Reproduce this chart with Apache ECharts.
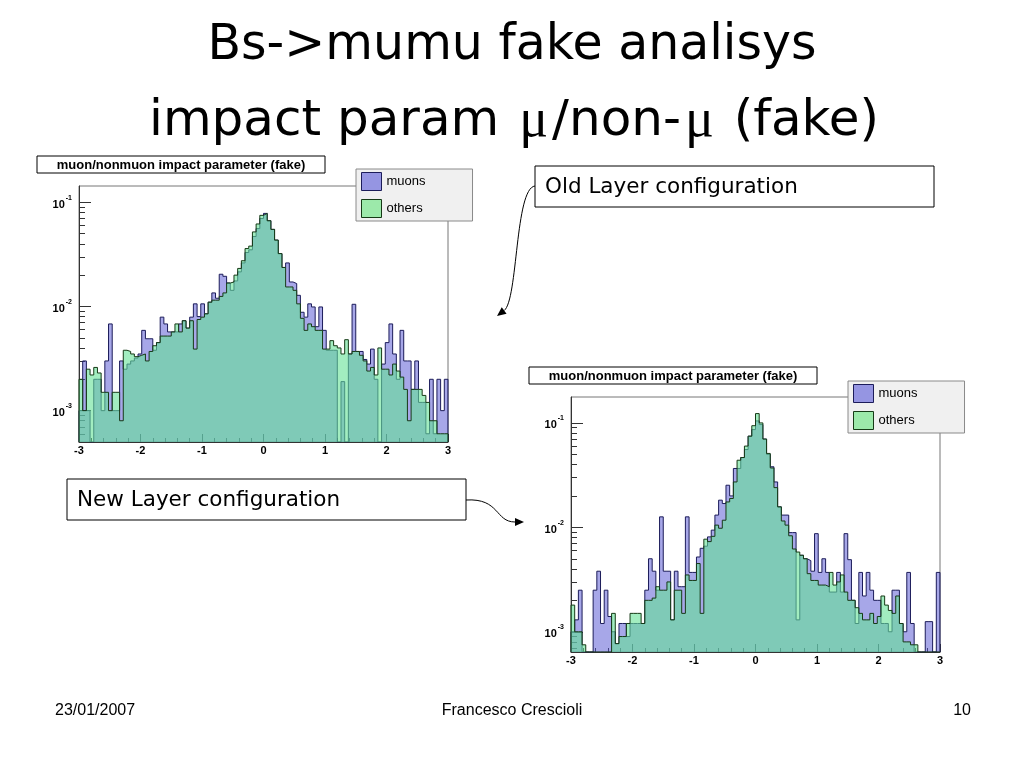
<!DOCTYPE html>
<html><head><meta charset="utf-8">
<script src="https://cdn.jsdelivr.net/npm/echarts@6/dist/echarts.min.js"></script>
<style>html,body{margin:0;padding:0;background:#fff;}#c{width:1023px;height:767px;}</style>
</head><body><div id="c"></div>
<script>
// ---------- data ----------
const BIN_LO = -3, BIN_W = 0.06;           // 100 bins over [-3, 3]
const xTickLabels = [-3, -2, -1, 0, 1, 2, 3];
const yDecades = [0.001, 0.01, 0.1];
const seriesNames = ['muons', 'others'];
const histTitle = 'muon/nonmuon impact parameter (fake)';

const oldMuons = [0.001,0.003,0.001,0,0.002,0.002,0.001,0.003,0.0068,0.001,
 0.001,0.003,0.0025,0.0028,0.003,0.0032,0.0035,0.0059,0.0049,0.0049,
 0.0038,0.0045,0.0079,0.0068,0.0057,0.0057,0.0057,0.0068,0.0073,0.0062,
 0.0079,0.0106,0.008,0.0106,0.0085,0.011,0.0135,0.012,0.0204,0.0195,
 0.0168,0.0143,0.0176,0.0215,0.0262,0.033,0.035,0.047,0.056,0.07,
 0.0783,0.0666,0.055,0.0434,0.0322,0.0237,0.0262,0.0172,0.0166,0.0128,
 0.0088,0.0079,0.0106,0.0099,0.0064,0.0099,0.0059,0.0038,0.0038,0.0038,
 0,0.0019,0,0.0035,0.0105,0.0037,0.0037,0.0031,0.0028,0.0039,
 0.002,0,0.0028,0.0045,0.0068,0.0035,0.002,0.0059,0.003,0.003,
 0.0016,0.003,0.0012,0.0012,0.0006,0.002,0.0006,0.002,0.001,0.002];
const oldOthers = [0.002,0.001,0.0025,0.0022,0.0026,0.0023,0.0015,0.0015,0.001,0.0015,
 0.0015,0.0008,0.0038,0.0037,0.0035,0.0033,0.0034,0.0035,0.003,0.0037,
 0.0042,0.0045,0.0052,0.0052,0.0052,0.0057,0.0068,0.0057,0.0073,0.0062,
 0.0073,0.0039,0.0075,0.0079,0.0085,0.011,0.0115,0.0115,0.0125,0.0135,
 0.0168,0.0172,0.02,0.0232,0.0275,0.036,0.038,0.052,0.062,0.075,
 0.0783,0.0666,0.055,0.0434,0.0322,0.0237,0.0154,0.0154,0.0143,0.0106,
 0.0077,0.0059,0.0068,0.0064,0.0059,0.0059,0.0039,0.0039,0.0047,0.0042,
 0.004,0.0035,0.0048,0.0035,0.0037,0.0037,0.0034,0.003,0.0024,0.0026,
 0.0022,0.004,0.0025,0.0025,0.0022,0.0028,0.0024,0.0021,0.0016,0.0008,
 0.0016,0.0016,0.0016,0.0014,0.0012,0.0008,0.0008,0.0006,0.0006,0.0006];
const newMuons = [0.001,0.0013,0.0025,0,0,0,0.0025,0.0038,0.0012,0.0025,
 0.0014,0.001,0.00077,0.0012,0.0012,0.0009,0.0012,0.0012,0.0012,0.0012,
 0.0025,0.005,0.0038,0.0025,0.0126,0.0038,0.0038,0.0013,0.0038,0.0027,
 0.0027,0.0126,0.0037,0.0037,0.0052,0.0063,0.0066,0.0081,0.0094,0.0131,
 0.0182,0.0169,0.0253,0.02,0.0366,0.0366,0.0466,0.0556,0.0746,0.0863,
 0.1045,0.0964,0.07,0.05,0.038,0.0272,0.0157,0.0131,0.0131,0.0089,
 0.0089,0.0013,0.0054,0.005,0.0048,0.0038,0.0087,0.0037,0.005,0.0037,
 0.0024,0.0024,0.0037,0.0024,0.0087,0.0049,0.002,0.0012,0.0037,0.0022,
 0.0037,0.0025,0.002,0.002,0.0012,0.0012,0.001,0.0025,0.0025,0.0012,
 0.001,0.0037,0.0012,0,0,0,0.00125,0.00125,0,0.0037];
const newOthers = [0.0018,0.001,0.001,0.00075,0,0,0,0,0,0,
 0,0.0015,0.00077,0.0009,0.0009,0.0012,0.0015,0.0015,0.0015,0.0012,
 0.002,0.002,0.0021,0.0027,0.0025,0.0025,0.003,0.0013,0.0025,0.0025,
 0.0015,0.0035,0.0031,0.0031,0.0045,0.0015,0.0077,0.0073,0.0082,0.0105,
 0.0098,0.0117,0.0175,0.0189,0.0272,0.0439,0.0466,0.06,0.0746,0.094,
 0.1228,0.1,0.07,0.051,0.037,0.024,0.0157,0.0115,0.0105,0.0083,
 0.0062,0.0058,0.0054,0.005,0.0036,0.0031,0.0031,0.0028,0.0028,0.0027,
 0.0037,0.0028,0.003,0.0035,0.0024,0.002,0.002,0.0017,0.0015,0.0013,
 0.0013,0.0015,0.0012,0.0014,0.0022,0.0018,0.0016,0.0015,0.0022,0.0012,
 0.0008,0.0008,0.00075,0.00075,0,0,0,0,0,0];

// ---------- styling ----------
const MU_FILL = 'rgba(80,80,210,0.5)', MU_LINE = '#1c1c5a';
const OT_FILL = 'rgba(100,225,150,0.6)', OT_LINE = '#163a16';
const ROOT_FONT = '"Liberation Sans", Arial, sans-serif';
const Y_RANGES = [[5e-4, 0.1435], [6.4e-4, 0.177]];
const GRIDS = [{left: 79, top: 186, width: 369, height: 256},
               {left: 571, top: 397, width: 369, height: 255}];

function edge(i) { return Math.round((BIN_LO + i * BIN_W) * 1e6) / 1e6; }
function stepData(vals, floor) {
  const pts = [[edge(0), floor]];
  vals.forEach((v, i) => pts.push([edge(i), v > 0 ? v : floor]));
  const last = vals[vals.length - 1];
  pts.push([edge(vals.length), last > 0 ? last : floor]);
  pts.push([edge(vals.length), floor]);
  return pts;
}
function histSeries(name, vals, gi, fill, line, z) {
  return {
    name, type: 'line', step: 'end', xAxisIndex: gi, yAxisIndex: gi,
    data: stepData(vals, Y_RANGES[gi][0]), symbol: 'none', showSymbol: false,
    clip: true, z, silent: true,
    lineStyle: {color: line, width: 1},
    itemStyle: {color: fill},
    areaStyle: {color: fill, opacity: 1, origin: 'start'}
  };
}

const xAxes = GRIDS.map((g, gi) => ({
  type: 'value', gridIndex: gi, min: -3, max: 3, interval: 1,
  axisLine: {show: true, onZero: false, lineStyle: {color: '#333', width: 1}},
  axisTick: {show: true, inside: true, length: 8, lineStyle: {color: '#333'}},
  minorTick: {show: true, splitNumber: 5, length: 4, lineStyle: {color: '#333'}},
  splitLine: {show: false},
  axisLabel: {show: true, margin: 3, color: '#000', fontFamily: ROOT_FONT, fontWeight: 'bold', fontSize: 11,
    customValues: xTickLabels, formatter: v => String(v)}
}));
const yAxes = GRIDS.map((g, gi) => ({
  type: 'log', logBase: 10, gridIndex: gi, min: Y_RANGES[gi][0], max: Y_RANGES[gi][1],
  axisLine: {show: true, onZero: false, lineStyle: {color: '#333', width: 1}},
  axisTick: {show: true, inside: true, length: 12, customValues: yDecades, lineStyle: {color: '#333'}},
  minorTick: {show: true, splitNumber: 9, length: 6, lineStyle: {color: '#333'}},
  splitLine: {show: false},
  axisLabel: {show: true, margin: 7, customValues: yDecades,
    formatter: v => '{b|10}{s|' + Math.round(Math.log10(v)) + '}',
    rich: {b: {fontSize: 11, fontWeight: 'bold', fontFamily: ROOT_FONT, color: '#000', lineHeight: 16, verticalAlign: 'bottom'},
           s: {fontSize: 7, fontWeight: 'bold', fontFamily: ROOT_FONT, color: '#000', lineHeight: 16, verticalAlign: 'top', padding: [0, 0, 8, 1]}}}
}));

const legends = [{left: 356, top: 169}, {left: 848, top: 381}].map(p => ({
  left: p.left, top: p.top, orient: 'vertical', icon: 'rect',
  itemWidth: 20, itemHeight: 18, itemGap: 8, padding: [3, 47, 3, 5],
  backgroundColor: '#f0f0f0', borderColor: '#8a8a8a', borderWidth: 1, borderRadius: 0,
  selectedMode: false,
  textStyle: {fontFamily: ROOT_FONT, fontSize: 13, color: '#000'},
  data: [{name: seriesNames[0], itemStyle: {color: 'rgba(110,110,220,0.7)', borderColor: MU_LINE, borderWidth: 1}},
         {name: seriesNames[1], itemStyle: {color: 'rgba(120,230,140,0.7)', borderColor: OT_LINE, borderWidth: 1}}]
}));

// ---------- annotations ----------
function titleBox(x, y, w, h) {
  return {type: 'group', children: [
    {type: 'rect', shape: {x, y, width: w, height: h}, style: {fill: '#fff', stroke: '#000', lineWidth: 1}, z: 10},
    {type: 'text', z: 11, style: {text: histTitle, x: x + w / 2, y: y + h / 2 + 1, textAlign: 'center', textVerticalAlign: 'middle',
      font: 'bold 13px ' + ROOT_FONT, fill: '#000'}}]};
}
function noteBox(x, y, w, h, txt) {
  return {type: 'group', children: [
    {type: 'rect', shape: {x, y, width: w, height: h}, style: {fill: '#fff', stroke: '#000', lineWidth: 1}},
    {type: 'text', style: {text: txt, x: x + 10, y: y + h / 2 + 1, textAlign: 'left', textVerticalAlign: 'middle',
      font: '21.5px "DejaVu Sans", sans-serif', fill: '#000'}}]};
}
function arrow(p0, c1, c2, p3) {
  const dx = p3[0] - c2[0], dy = p3[1] - c2[1], L = Math.hypot(dx, dy);
  const ux = dx / L, uy = dy / L, s = 9, w = 4;
  const bx = p3[0] - ux * s, by = p3[1] - uy * s;
  return {type: 'group', children: [
    {type: 'bezierCurve', shape: {x1: p0[0], y1: p0[1], cpx1: c1[0], cpy1: c1[1], cpx2: c2[0], cpy2: c2[1], x2: bx, y2: by},
     style: {stroke: '#000', lineWidth: 1, fill: null}},
    {type: 'polygon', shape: {points: [p3, [bx - uy * w, by + ux * w], [bx + uy * w, by - ux * w]]}, style: {fill: '#000'}}]};
}

const graphics = [
  {type: 'text', style: {text: 'Bs->mumu fake analisys', x: 512, y: 46, textAlign: 'center', textVerticalAlign: 'middle',
    font: '49px "DejaVu Sans", sans-serif', fill: '#000'}},
  {type: 'text', style: {text: 'impact param {m|μ}/non-{m|μ} (fake)', x: 514, y: 122, textAlign: 'center', textVerticalAlign: 'middle',
    font: '50px "DejaVu Sans", sans-serif', fill: '#000',
    rich: {m: {font: '54px "Liberation Serif", serif', fill: '#000', padding: [0, 4, 0, 4]}}}},
  titleBox(37, 156, 288, 17),
  titleBox(529, 367, 288, 17),
  noteBox(535, 166, 399, 41, 'Old Layer configuration'),
  noteBox(67, 479, 399, 41, 'New Layer configuration'),
  arrow([535, 186], [515, 188], [518, 300], [497, 316]),
  arrow([466, 500], [500, 498], [495, 522], [524, 522]),
  {type: 'text', style: {text: '23/01/2007', x: 55, y: 711, textAlign: 'left', textVerticalAlign: 'middle', font: '16px ' + ROOT_FONT, fill: '#000'}},
  {type: 'text', style: {text: 'Francesco Crescioli', x: 512, y: 711, textAlign: 'center', textVerticalAlign: 'middle', font: '16px ' + ROOT_FONT, fill: '#000'}},
  {type: 'text', style: {text: '10', x: 971, y: 711, textAlign: 'right', textVerticalAlign: 'middle', font: '16px ' + ROOT_FONT, fill: '#000'}}
];

const chart = echarts.init(document.getElementById('c'), null, {renderer: 'canvas'});
chart.setOption({
  animation: false,
  backgroundColor: '#fff',
  grid: GRIDS.map(g => Object.assign({show: true, borderColor: '#777', borderWidth: 1, backgroundColor: '#fff', containLabel: false}, g)),
  xAxis: xAxes,
  yAxis: yAxes,
  legend: legends,
  series: [
    histSeries(seriesNames[0], oldMuons, 0, MU_FILL, MU_LINE, 2),
    histSeries(seriesNames[1], oldOthers, 0, OT_FILL, OT_LINE, 3),
    histSeries(seriesNames[0], newMuons, 1, MU_FILL, MU_LINE, 2),
    histSeries(seriesNames[1], newOthers, 1, OT_FILL, OT_LINE, 3)
  ],
  graphic: graphics
});
</script></body></html>
